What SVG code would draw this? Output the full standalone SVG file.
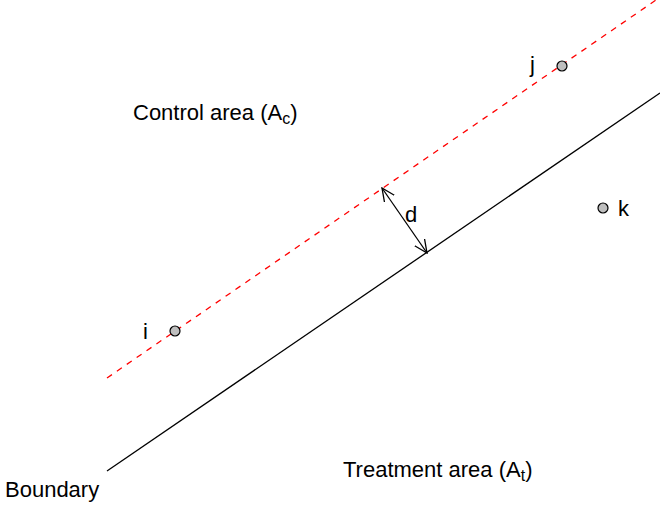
<svg xmlns="http://www.w3.org/2000/svg" width="660" height="506" viewBox="0 0 660 506">
<defs>
<style>
.lbl{font-family:"Liberation Sans",Arial,sans-serif;font-size:22px;fill:#000}
.pt{fill:#bebebe;stroke:#000;stroke-width:1.2}
.sub{font-size:16px}
</style>
<marker id="ah" viewBox="0 0 14 14" refX="13" refY="7" markerWidth="14" markerHeight="14" markerUnits="userSpaceOnUse" orient="auto-start-reverse">
<path d="M0,1 L13,7 L0,13" fill="none" stroke="#000" stroke-width="1.3"/>
</marker>
</defs>
<rect width="660" height="506" fill="#fff"/>
<g id="connectors">
<line id="boundary-line" x1="107" y1="471" x2="660" y2="93" stroke="#000" stroke-width="1.3"/>
<line id="offset-line" x1="107" y1="378" x2="656" y2="0" stroke="#ff0000" stroke-width="1.3" stroke-dasharray="6,6"/>
<line id="d-arrow" x1="382" y1="188" x2="427" y2="253" stroke="#000" stroke-width="1.3" marker-start="url(#ah)" marker-end="url(#ah)"/>
</g>
<g id="node-i"><circle class="pt" cx="175" cy="331" r="5"/><text class="lbl" x="143" y="339">i</text></g>
<g id="node-j"><circle class="pt" cx="562" cy="66" r="5"/><text class="lbl" x="530" y="72">j</text></g>
<g id="node-k"><circle class="pt" cx="603" cy="208" r="5"/><text class="lbl" x="618" y="216">k</text></g>
<g id="label-d"><text class="lbl" x="405" y="222">d</text></g>
<g id="label-control"><text class="lbl" x="133" y="120">Control area (A<tspan class="sub" dy="4">c</tspan><tspan dy="-4">)</tspan></text></g>
<g id="label-treatment"><text class="lbl" x="343" y="477">Treatment area (A<tspan class="sub" dy="4">t</tspan><tspan dy="-4">)</tspan></text></g>
<g id="label-boundary"><text class="lbl" x="5" y="497">Boundary</text></g>
</svg>
